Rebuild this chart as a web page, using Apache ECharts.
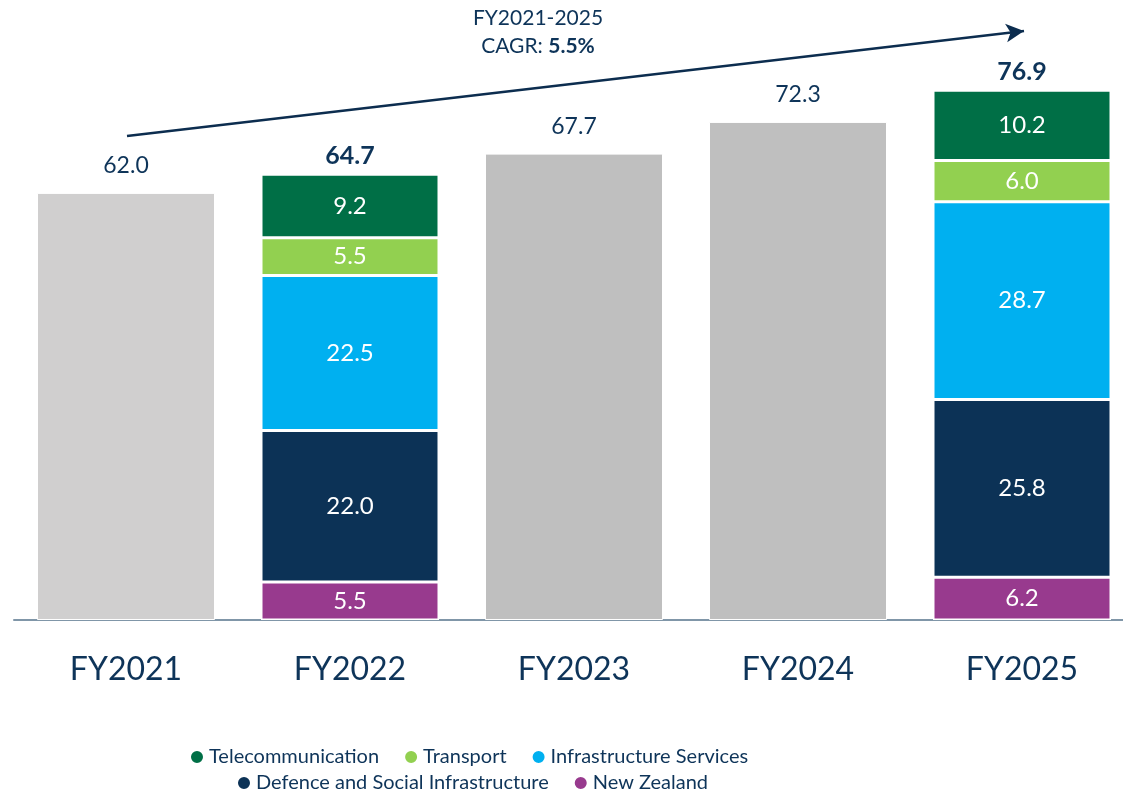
<!DOCTYPE html>
<html>
<head>
<meta charset="utf-8">
<script src="https://cdn.jsdelivr.net/npm/echarts@6/dist/echarts.min.js"></script>
<style>
  html, body { margin: 0; padding: 0; background: #fff; }
  #chart { width: 1123px; height: 789px; }
</style>
</head>
<body>
<div id="chart"></div>
<script>
  var categories = ['FY2021', 'FY2022', 'FY2023', 'FY2024', 'FY2025'];
  var totals = [62.0, 64.7, 67.7, 72.3, 76.9];
  // breakdown only for FY2022 and FY2025
  var newZealand = [null, 5.5, null, null, 6.2];
  var defence = [null, 22.0, null, null, 25.8];
  var infraServices = [null, 22.5, null, null, 28.7];
  var transport = [null, 5.5, null, null, 6.0];
  var telecom = [null, 9.2, null, null, 10.2];

  var textColor = '#0e3459';
  var font = 'Lato';

  var greyData = totals.map(function (v, i) {
    if (newZealand[i] != null) return '-';
    return { value: v, itemStyle: { color: i === 0 ? '#d0cfcf' : '#bfbfbf' } };
  });

  function seg(name, data, color) {
    return {
      name: name,
      type: 'bar',
      stack: 'total',
      barWidth: 178,
      data: data.map(function (v) { return v == null ? '-' : v; }),
      itemStyle: { color: color, borderColor: '#fff', borderWidth: 1.5 },
      label: {
        show: true,
        position: 'inside',
        color: '#fff',
        fontFamily: font,
        fontSize: 24,
        formatter: function (p) { return p.value.toFixed(1); }
      }
    };
  }

  var legendText = { color: textColor, fontSize: 20, fontFamily: font };

  var chart = echarts.init(document.getElementById('chart'));
  chart.setOption({
    animation: false,
    textStyle: { fontFamily: font },
    grid: { left: 14, width: 1120, top: 0, bottom: 169, outerBoundsMode: 'none' },
    legend: [
      {
        data: ['Telecommunication', 'Transport', 'Infrastructure Services'],
        left: 184, top: 742,
        icon: 'circle', itemWidth: 14, itemHeight: 14, itemGap: 24,
        textStyle: legendText
      },
      {
        data: ['Defence and Social Infrastructure', 'New Zealand'],
        left: 231, top: 768,
        icon: 'circle', itemWidth: 14, itemHeight: 14, itemGap: 24,
        textStyle: legendText
      }
    ],
    xAxis: {
      type: 'category',
      data: categories,
      axisLine: { lineStyle: { color: '#8096a8', width: 2 } },
      axisTick: { show: false },
      axisLabel: { color: textColor, fontSize: 32, fontFamily: font, margin: 34 }
    },
    yAxis: { type: 'value', min: 0, max: 90, show: false },
    graphic: [
      {
        type: 'text',
        x: 538, y: 8,
        style: {
          text: 'FY2021-2025',
          fill: textColor, font: '21px ' + font,
          textAlign: 'center'
        }
      },
      {
        type: 'text',
        x: 538, y: 36,
        style: {
          text: '{n|CAGR: }{b|5.5%}',
          textAlign: 'center',
          rich: {
            n: { fill: textColor, fontSize: 21, fontFamily: font },
            b: { fill: textColor, fontSize: 21, fontFamily: font, fontWeight: 'bold' }
          }
        }
      }
    ],
    series: [
      {
        name: 'Total',
        type: 'bar',
        stack: 'total',
        barWidth: 178,
        data: greyData,
        itemStyle: { borderColor: '#fff', borderWidth: 1 }
      },
      seg('New Zealand', newZealand, '#983a8e'),
      seg('Defence and Social Infrastructure', defence, '#0c3256'),
      seg('Infrastructure Services', infraServices, '#00b0f0'),
      seg('Transport', transport, '#92d050'),
      seg('Telecommunication', telecom, '#006f46'),
      {
        name: 'totalLabels',
        type: 'scatter',
        symbolSize: 0,
        silent: true,
        itemStyle: { opacity: 1 },
        data: totals.map(function (v, i) {
          var bold = newZealand[i] != null;
          return {
            value: v,
            label: {
              color: textColor,
              fontWeight: bold ? 'bold' : 'normal',
              fontSize: bold ? 25 : 23,
              distance: bold ? 6 : 16
            }
          };
        }),
        label: {
          show: true,
          position: 'top',
          color: textColor,
          fontFamily: font,
          formatter: function (p) { return p.value.toFixed(1); }
        },
        markLine: {
          silent: true,
          symbol: ['none', 'arrow'],
          symbolSize: [14, 18],
          label: { show: false },
          lineStyle: { color: '#0c2d4f', width: 2.5, type: 'solid' },
          data: [[{ x: 127, y: 136 }, { x: 1024, y: 31 }]]
        }
      }
    ]
  });
</script>
</body>
</html>
